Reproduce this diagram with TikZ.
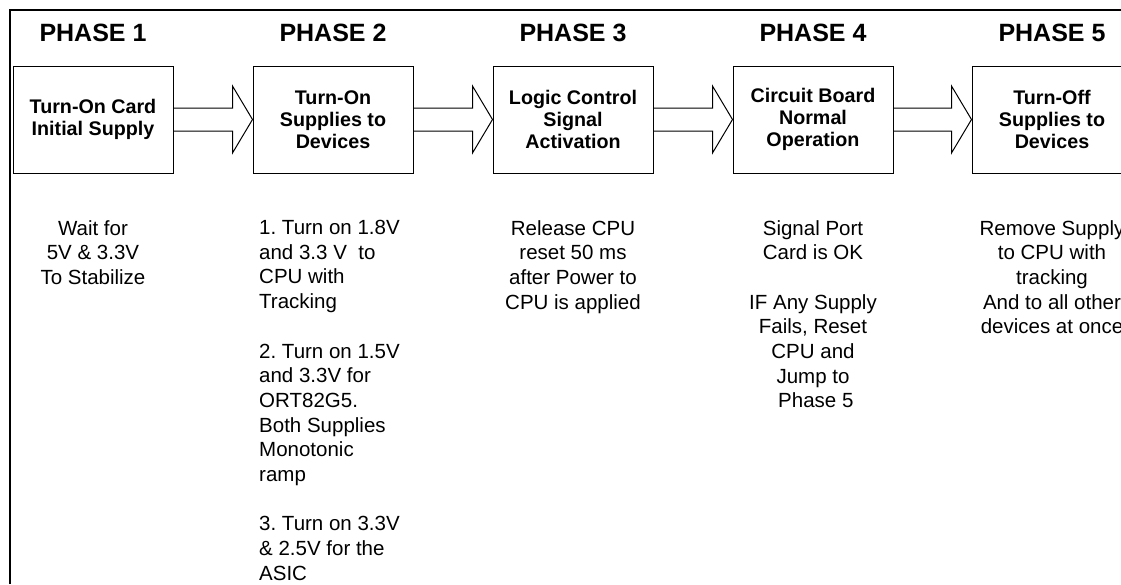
\documentclass[tikz,border=0pt]{standalone}
\usepackage{fontspec}
\setmainfont{Liberation Sans}
\usetikzlibrary{calc}
\frenchspacing
\tikzstyle{bigarrow} = [line width=1pt,line join=miter]
\tikzstyle{frame} = [line width=2pt]

\begin{document}
\begin{tikzpicture}
        [
            x=1pt,y=-1pt,
            box/.style={rectangle,draw=black,line width=1pt, minimum width=160pt, minimum height=107pt, align=center, font=\bfseries\fontsize{19.7}{22}\selectfont},
            phase/.style={font=\bfseries\fontsize{25}{30}\selectfont},
            note/.style={anchor=north, align=center, inner sep=0pt, font=\fontsize{20.5}{24.7}\selectfont},
        ]
    \useasboundingbox (0,0) rectangle (1121,584);
    \clip (0,0) rectangle (1121,584);

    % outer frame, only top and left visible
    \draw[frame] (10,584) -- (10,10) -- (1121,10);

    \foreach \n/\x in {1/93,2/333,3/573,4/813,5/1052}
        \node[phase] (ph\n) at (\x,33) {PHASE \n};

    \node[box] (b1) at (93,119.5) {Turn-On Card\\Initial Supply};
    \node[box] (b2) at (333,119.5) {Turn-On\\Supplies to\\Devices};
    \node[box] (b3) at (573,119.5) {Logic Control\\Signal\\Activation};
    \node[box] (b4) at (813,119.5) {Circuit Board\\Normal\\Operation};
    \node[box] (b5) at (1052,119.5) {Turn-Off\\Supplies to\\Devices};

    % block arrows between the phases
    \foreach \a/\b in {b1/b2,b2/b3,b3/b4,b4/b5}
        \draw[bigarrow] ($(\a.east)+(0,-11.5)$) -- ($(\b.west)+(-20,-11.5)$) -- ++(0,-22)
            -- (\b.west) -- ($(\b.west)+(-20,33.5)$) -- ++(0,-22) -- ($(\a.east)+(0,11.5)$);

    \node[note] (n1) at (93,220) {Wait for\\5V \& 3.3V\\To Stabilize};
    \node[note,anchor=north west,align=left] (n2) at (259,220)
        {1. Turn on 1.8V\\and 3.3 V~ to\\CPU with\\Tracking\\[24.7pt]2. Turn on 1.5V\\and 3.3V for\\ORT82G5.\\Both Supplies\\Monotonic\\ramp\\[24.7pt]3. Turn on 3.3V\\\& 2.5V for the\\ASIC};
    \node[note] (n3) at (573,220) {Release CPU\\reset 50 ms\\after Power to\\CPU is applied};
    \node[note] (n4) at (813,220) {Signal Port\\Card is OK\\[24.7pt]IF Any Supply\\Fails, Reset\\CPU and\\Jump to\\~Phase 5};
    \node[note] (n5) at (1052,220) {Remove Supply\\to CPU with\\tracking\\And to all other\\devices at once};
\end{tikzpicture}
\end{document}
